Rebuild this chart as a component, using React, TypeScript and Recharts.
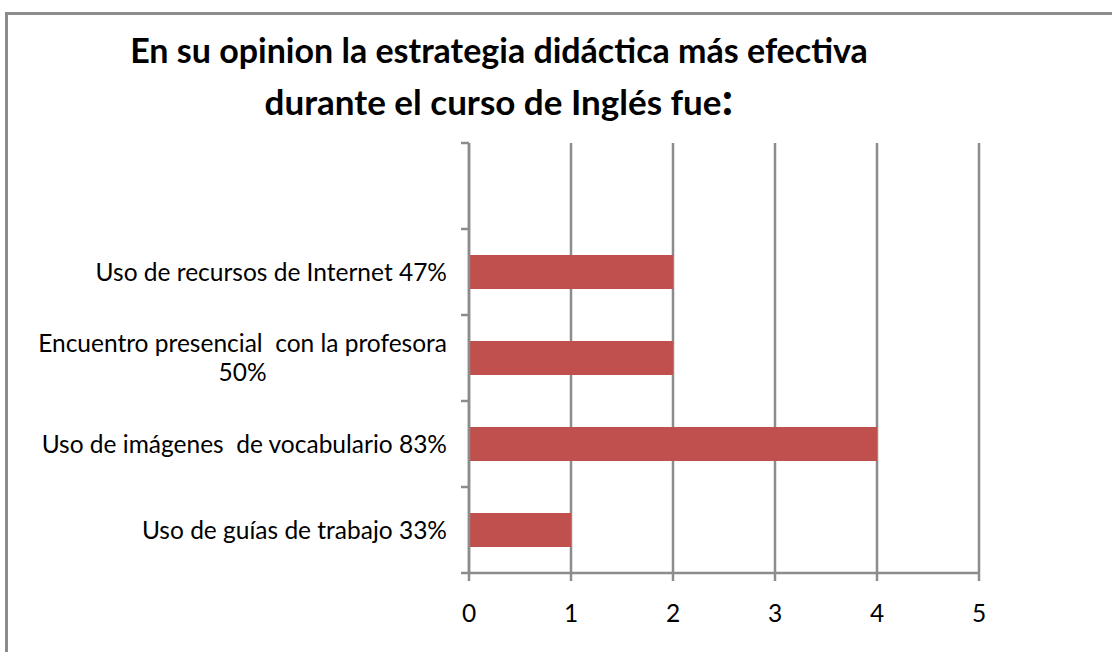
import React from 'react'
import { BarChart, Bar, XAxis, YAxis, CartesianGrid } from 'recharts'

// categories top -> bottom (first one is an empty slot, as in the original)
const categories = [
  '',
  'Uso de recursos de Internet 47%',
  'Encuentro presencial  con la profesora\n50%',
  'Uso de imágenes  de vocabulario 83%',
  'Uso de guías de trabajo 33%',
]
const values: (number | null)[] = [null, 2, 2, 4, 1]
const xTicks = [0, 1, 2, 3, 4, 5]
const titleLines = ['En su opinion la estrategia didáctica más efectiva', 'durante el curso de Inglés fue']

const data = categories.map((name, i) => ({ name, value: values[i] }))

const W = 1112
const H = 652
const TOP = 143
const BOTTOM = 79
const LEFT = 469
const RIGHT = 133
const BAND = (H - TOP - BOTTOM) / categories.length
const GRID = '#8c8c8c'
const FONT = 'Lato, "Open Sans", sans-serif'
const LABEL_SIZE = 24.5
const LABEL_RIGHT = 447

let ctx: CanvasRenderingContext2D | null = null
function textWidth(s: string) {
  if (!ctx) ctx = document.createElement('canvas').getContext('2d')
  if (!ctx) return s.length * LABEL_SIZE * 0.5
  ctx.font = `${LABEL_SIZE}px Lato`
  return ctx.measureText(s).width
}

function CategoryTick(props: any) {
  const { y, payload, index } = props
  const lines = String(payload.value).split('\n')
  const lh = 29
  const maxW = Math.max(...lines.map(textWidth))
  const cx = LABEL_RIGHT - maxW / 2
  const startY = y - ((lines.length - 1) * lh) / 2
  return (
    <g>
      <line x1={LEFT - 8} x2={LEFT} y1={y + BAND / 2} y2={y + BAND / 2} stroke={GRID} strokeWidth={2.5} />
      {index === 0 && <line x1={LEFT - 8} x2={LEFT} y1={y - BAND / 2} y2={y - BAND / 2} stroke={GRID} strokeWidth={2.5} />}
      <text
        fontFamily={FONT}
        fontSize={LABEL_SIZE}
        fill="#000"
        style={{ whiteSpace: 'pre' }}
        textAnchor={lines.length > 1 ? 'middle' : 'end'}
      >
        {lines.map((l, i) => (
          <tspan key={i} x={lines.length > 1 ? cx : LABEL_RIGHT} y={startY + i * lh} dy="0.35em">
            {l}
          </tspan>
        ))}
      </text>
    </g>
  )
}

export default function App() {
  return (
    <div style={{ position: 'absolute', left: 0, top: 0, width: W, height: H, overflow: 'hidden', background: '#fff' }}>
      <div
        style={{
          position: 'absolute',
          left: 5,
          top: 12,
          width: 1300,
          height: 900,
          borderTop: `3px solid ${GRID}`,
          borderLeft: `3px solid ${GRID}`,
        }}
      />
      <div
        style={{
          position: 'absolute',
          left: 0,
          width: 998,
          top: 26,
          textAlign: 'center',
          fontFamily: FONT,
          fontWeight: 'bold',
          fontSize: 34,
          lineHeight: '48px',
          color: '#000',
        }}
      >
        <div>{titleLines[0]}</div>
        <div style={{ fontSize: 35 }}>
          {titleLines[1]}
          <span style={{ fontSize: 46 }}>:</span>
        </div>
      </div>
      <div style={{ position: 'absolute', left: 0, top: 0 }}>
        <BarChart
          width={W}
          height={H}
          data={data}
          layout="vertical"
          margin={{ top: TOP, right: RIGHT, bottom: BOTTOM - 60, left: 0 }}
        >
          <CartesianGrid horizontal={false} stroke={GRID} strokeWidth={2.5} />
          <XAxis
            type="number"
            domain={[0, 5]}
            ticks={xTicks}
            height={60}
            axisLine={{ stroke: GRID, strokeWidth: 2.5 }}
            tickLine={{ stroke: GRID, strokeWidth: 2.5 }}
            tickSize={8}
            tickMargin={24}
            tick={{ fill: '#000', fontSize: LABEL_SIZE, fontFamily: FONT }}
          />
          <YAxis
            type="category"
            dataKey="name"
            width={LEFT}
            axisLine={{ stroke: GRID, strokeWidth: 2.5 }}
            tickLine={false}
            interval={0}
            tick={<CategoryTick />}
          />
          <Bar dataKey="value" fill="#C0504D" barSize={34} isAnimationActive={false} />
        </BarChart>
      </div>
    </div>
  )
}
